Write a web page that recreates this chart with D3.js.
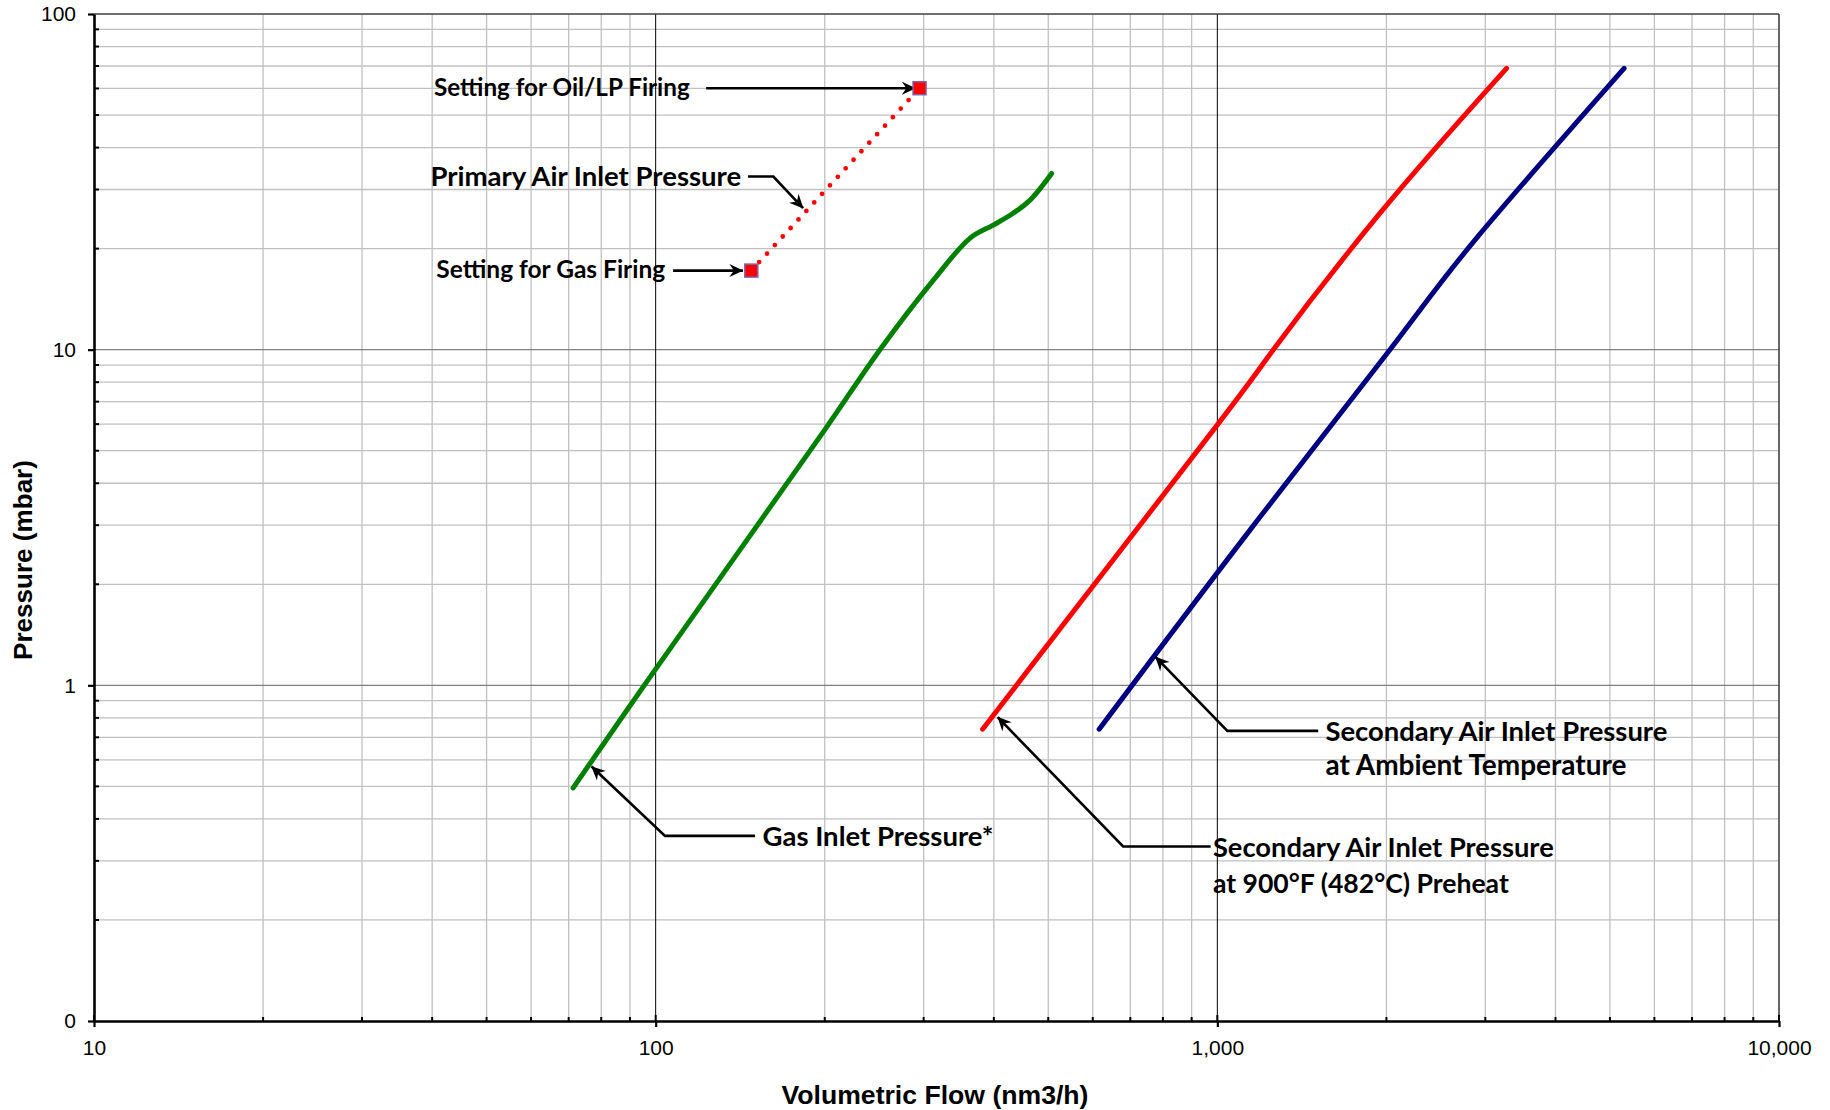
<!DOCTYPE html>
<html><head><meta charset="utf-8">
<script src="https://cdn.jsdelivr.net/npm/d3@7"></script>
<style>body{margin:0;background:#fff} svg{display:block}</style>
</head><body>
<svg id="c" width="1830" height="1110"></svg>
<script>
// ---- data ----
const xTickValues = [10, 100, 1000, 10000];
const xTickLabels = ["10", "100", "1,000", "10,000"];
const yTickValues = [0.1, 1, 10, 100];
const yTickLabels = ["0", "1", "10", "100"];
const xTitle = "Volumetric Flow (nm3/h)";
const yTitle = "Pressure (mbar)";

const gasFlow     = [71.3, 97, 200, 250.8, 313, 363, 399, 433, 464, 507];
const gasPressure = [0.495, 1.04, 5.77, 10, 16.2, 21.5, 23.5, 25.5, 27.9, 33.5];
const preheatFlow     = [382, 1000, 1258, 1948, 3273];
const preheatPressure = [0.74, 5.97, 10, 25.5, 68.9];
const ambientFlow     = [616, 1143, 2029, 2894, 5300];
const ambientPressure = [0.74, 2.9, 10, 21.5, 68.9];
const primaryFlow     = [148, 295];
const primaryPressure = [17.2, 60.1];

// annotations (data coordinates)
const annotations = [
  {lines:["Setting for Oil/LP Firing"], at:[115, 60.6], anchor:"end", widths:[256], arrow:[[123,60.1],[290,60.1]]},
  {lines:["Primary Air Inlet Pressure"], at:[142, 32.9], anchor:"end", widths:[311], arrow:[[146,32.8],[162,32.8],[183,26.4]]},
  {lines:["Setting for Gas Firing"], at:[104, 17.3], anchor:"end", widths:[229], arrow:[[107.4,17.2],[143,17.2]]},
  {lines:["Gas Inlet Pressure*"], at:[155, 0.356], anchor:"start", widths:[231], arrow:[[150.3,0.356],[103.9,0.356],[76.9,0.573]]},
  {lines:["Secondary Air Inlet Pressure","at Ambient Temperature"], at:[1558, 0.7315], line2:0.579, anchor:"start", widths:[342,301], arrow:[[1512,0.7315],[1042,0.7315],[776,1.215]]},
  {lines:["Secondary Air Inlet Pressure","at 900°F (482°C) Preheat"], at:[982, 0.328], line2:0.256, anchor:"start", widths:[341,296], arrow:[[973,0.331],[679.5,0.331],[406.4,0.804]]}
];

// ---- layout ----
const svg = d3.select("#c");
const x = d3.scaleLog().domain([10, 10000]).range([94, 1779]);
const y = d3.scaleLog().domain([0.1, 100]).range([1021, 14]);

const fitText = (el, target) => {
  const base = 24;
  el.style("font-size", base + "px");
  const w = el.node().getComputedTextLength();
  if (w > 0) el.style("font-size", (base * target / w) + "px");
};

const minorVals = (lo, hi) => {
  const out = [];
  for (let d = lo; d < hi; d *= 10) for (let k = 2; k <= 9; k++) out.push(d * k);
  return out;
};
const xMinor = minorVals(10, 10000);
const yMinor = minorVals(0.1, 100);

const grid = svg.append("g");
grid.selectAll(".hm").data(yMinor).join("line")
  .attr("x1", x(10)).attr("x2", x(10000)).attr("y1", d => y(d)).attr("y2", d => y(d))
  .attr("stroke", "#c0c0c0").attr("stroke-width", 1.3);
grid.selectAll(".vm").data(xMinor).join("line")
  .attr("y1", y(0.1)).attr("y2", y(100)).attr("x1", d => x(d)).attr("x2", d => x(d))
  .attr("stroke", "#c0c0c0").attr("stroke-width", 1.3);
grid.selectAll(".hM").data([1, 10]).join("line")
  .attr("x1", x(10)).attr("x2", x(10000)).attr("y1", d => y(d)).attr("y2", d => y(d))
  .attr("stroke", "#808080").attr("stroke-width", 1.3);
grid.selectAll(".vM").data([100, 1000]).join("line")
  .attr("y1", y(0.1)).attr("y2", y(100)).attr("x1", d => x(d)).attr("x2", d => x(d))
  .attr("stroke", "#000").attr("stroke-width", 1);
// top & right border
grid.append("line").attr("x1", x(10)).attr("x2", x(10000)).attr("y1", y(100)).attr("y2", y(100))
  .attr("stroke", "#404040").attr("stroke-width", 1.6);
grid.append("line").attr("x1", x(10000)).attr("x2", x(10000)).attr("y1", y(0.1)).attr("y2", y(100))
  .attr("stroke", "#404040").attr("stroke-width", 1.6);

// ---- axes ----
const tickFont = "'Liberation Sans', Arial, sans-serif";
const xAxis = svg.append("g").attr("transform", `translate(0,${y(0.1)})`)
  .call(d3.axisBottom(x).tickValues(xTickValues).tickFormat((d, i) => xTickLabels[i])
    .tickSizeInner(6).tickSizeOuter(0).tickPadding(13));
const yAxis = svg.append("g").attr("transform", `translate(${x(10)},0)`)
  .call(d3.axisLeft(y).tickValues(yTickValues).tickFormat((d, i) => yTickLabels[i])
    .tickSizeInner(6).tickSizeOuter(0).tickPadding(12));
[xAxis, yAxis].forEach(a => {
  a.select(".domain").attr("stroke", "#000").attr("stroke-width", 2.6);
  a.selectAll(".tick line").attr("stroke", "#000").attr("stroke-width", 2.2);
  a.selectAll(".tick text").attr("fill", "#000").style("font-family", tickFont).style("font-size", "21px");
});
// inward ticks
svg.append("g").selectAll("line").data(xMinor.concat(xTickValues)).join("line")
  .attr("x1", d => x(d)).attr("x2", d => x(d)).attr("y1", y(0.1))
  .attr("y2", d => y(0.1) - (xTickValues.includes(d) ? 6 : 4))
  .attr("stroke", "#000").attr("stroke-width", 2);
svg.append("g").selectAll("line").data(yMinor.concat(yTickValues)).join("line")
  .attr("y1", d => y(d)).attr("y2", d => y(d)).attr("x1", x(10))
  .attr("x2", d => x(10) + (yTickValues.includes(d) ? 0 : 5))
  .attr("stroke", "#000").attr("stroke-width", 2);

// axis titles
const xt = svg.append("text").attr("x", 935).attr("y", 1095).attr("dy", "0.35em").attr("text-anchor", "middle")
  .style("font-family", tickFont).style("font-weight", "bold").text(xTitle);
fitText(xt, 307);
const yt = svg.append("text").attr("transform", "translate(23,560) rotate(-90)").attr("dy", "0.35em").attr("text-anchor", "middle")
  .style("font-family", tickFont).style("font-weight", "bold").text(yTitle);
fitText(yt, 200);

// ---- series ----
const lineCR = d3.line().x(d => x(d[0])).y(d => y(d[1])).curve(d3.curveCatmullRom.alpha(0.5));
const lineNat = d3.line().x(d => x(d[0])).y(d => y(d[1])).curve(d3.curveNatural);
const series = [
  {f: gasFlow, p: gasPressure, c: "#008000", gen: lineCR},
  {f: preheatFlow, p: preheatPressure, c: "#ff0000", gen: lineNat},
  {f: ambientFlow, p: ambientPressure, c: "#000080", gen: lineNat}
];
series.forEach(s => {
  svg.append("path").datum(s.f.map((v, i) => [v, s.p[i]])).attr("d", s.gen)
    .attr("fill", "none").attr("stroke", s.c).attr("stroke-width", 5).attr("stroke-linecap", "round");
});
const prim = primaryFlow.map((v, i) => [v, primaryPressure[i]]);
svg.append("path").datum(prim).attr("d", d3.line().x(d => x(d[0])).y(d => y(d[1])))
  .attr("fill", "none").attr("stroke", "#ff0000").attr("stroke-width", 4.8)
  .attr("stroke-linecap", "round").attr("stroke-dasharray", "0 11.6");

// ---- arrows ----
const defs = svg.append("defs");
defs.append("marker").attr("id", "ah").attr("viewBox", "0 0 14 14").attr("refX", 13.5).attr("refY", 7)
  .attr("markerWidth", 14).attr("markerHeight", 14).attr("markerUnits", "userSpaceOnUse").attr("orient", "auto")
  .append("path").attr("d", "M0,0.5 L14,7 L0,13.5 L4.5,7 Z").attr("fill", "#000");
const aline = d3.line().x(d => x(d[0])).y(d => y(d[1]));
const annFont = "Lato, 'Open Sans', sans-serif";
annotations.forEach(a => {
  svg.append("path").datum(a.arrow).attr("d", aline).attr("fill", "none")
    .attr("stroke", "#000").attr("stroke-width", 2.6).attr("marker-end", "url(#ah)");
  a.lines.forEach((t, i) => {
    const ty = i === 0 ? a.at[1] : a.line2;
    const el = svg.append("text").attr("x", x(a.at[0])).attr("y", y(ty)).attr("dy", "0.35em")
      .attr("text-anchor", a.anchor).style("font-family", annFont).style("font-weight", "bold")
      .attr("fill", "#000").text(t);
    fitText(el, a.widths[i]);
  });
});

// markers on primary air
svg.append("g").selectAll("rect").data(prim).join("rect")
  .attr("x", d => x(d[0]) - 6.5).attr("y", d => y(d[1]) - 6.5).attr("width", 13).attr("height", 13)
  .attr("fill", "#ff0000").attr("stroke", "#8064a2").attr("stroke-width", 1.5);
</script>
</body></html>
